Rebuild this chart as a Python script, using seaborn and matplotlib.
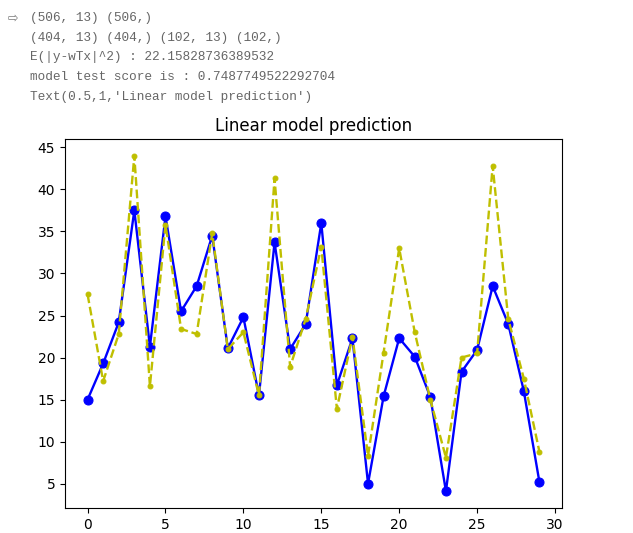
import numpy as np
import pandas as pd
import seaborn as sns
import matplotlib
matplotlib.use("Agg")
from matplotlib import pyplot as plt

# console lines printed above the chart
console_lines = [
    "(506, 13) (506,)",
    "(404, 13) (404,) (102, 13) (102,)",
    "E(|y-wTx|^2) : 22.15828736389532",
    "model test score is : 0.7487749522292704",
    "Text(0.5,1,'Linear model prediction')",
]

sample_idx = list(range(30))
y_test = [15.0, 19.3, 24.2, 37.5, 21.3, 36.8, 25.5, 28.5, 34.5, 21.1,
          24.8, 15.5, 33.7, 21.0, 24.0, 36.0, 16.7, 22.3, 5.0, 15.4,
          22.3, 20.1, 15.3, 4.1, 18.3, 20.9, 28.5, 24.0, 16.0, 5.2]
y_pred = [27.5, 17.2, 22.8, 44.0, 16.6, 35.8, 23.4, 22.8, 34.8, 21.0,
          23.0, 15.5, 41.3, 18.9, 24.6, 33.2, 13.9, 22.5, 8.3, 20.6,
          33.0, 23.0, 15.0, 8.1, 20.0, 20.5, 42.8, 24.6, 17.5, 8.8]

df = pd.DataFrame({"idx": sample_idx, "actual": y_test, "pred": y_pred})

fig = plt.figure(figsize=(6.33, 5.33), dpi=100)
ax = fig.add_axes([65 / 633, 1 - 508 / 533, (562 - 65) / 633, (508 - 139) / 533])

sns.lineplot(data=df, x="idx", y="actual", ax=ax, color="b", marker="o",
             markersize=6.5, markeredgecolor="b", linewidth=1.7)
sns.lineplot(data=df, x="idx", y="pred", ax=ax, color="y", marker=".",
             markersize=7, markeredgecolor="y", linestyle="--", linewidth=1.7)

ax.set_xlabel("")
ax.set_ylabel("")
ax.set_xticks([0, 5, 10, 15, 20, 25, 30])
ax.set_yticks([5, 10, 15, 20, 25, 30, 35, 40, 45])
ax.set_title("Linear model prediction")

# notebook output text
fig.text(8 / 633, 1 - 18 / 533, "\u21e8", fontsize=9, color="#777777",
         va="center", family="DejaVu Sans")
for i, line in enumerate(console_lines):
    fig.text(30 / 633, 1 - (18 + i * 19.7) / 533, line, fontsize=9.2,
             color="#666666", va="center", family="Liberation Mono")

fig.savefig("out.png", dpi=100)
